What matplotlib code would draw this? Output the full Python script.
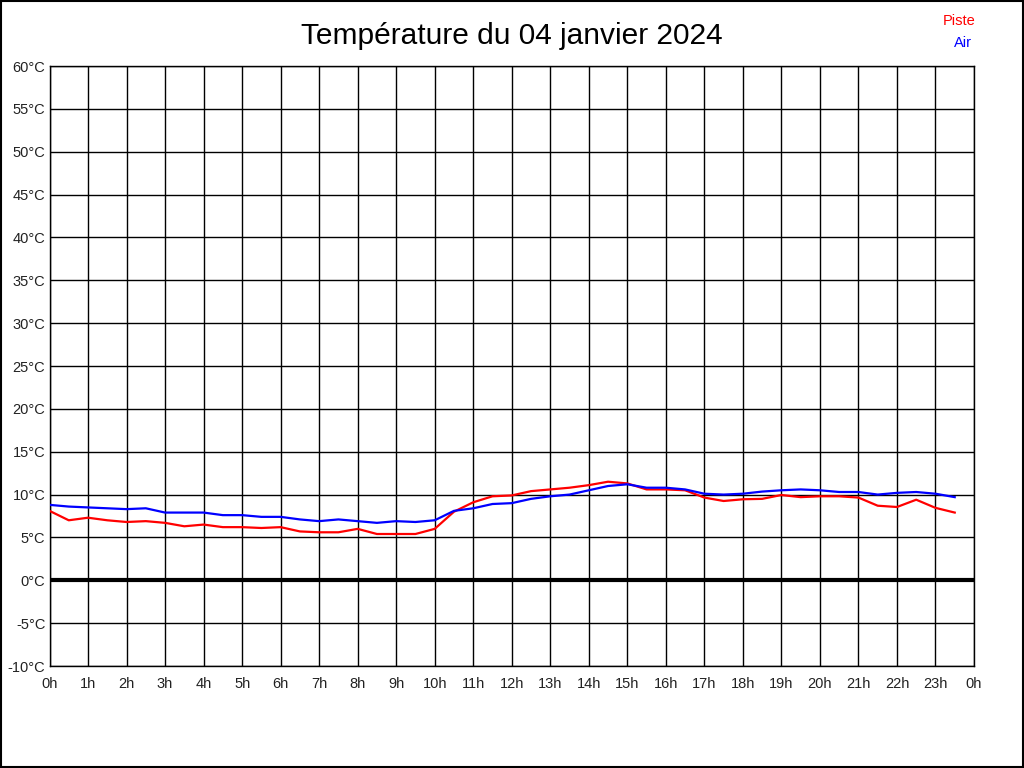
import numpy as np
import matplotlib.pyplot as plt
from matplotlib.patches import Rectangle

plt.rcParams['font.family'] = ['Liberation Sans', 'DejaVu Sans']

# half-hourly readings, 0h .. 23h30
heures = np.arange(0, 24, 0.5)

piste = [8.1, 7.0, 7.3, 7.0, 6.8, 6.9, 6.7, 6.3, 6.5, 6.2,
         6.2, 6.1, 6.2, 5.7, 5.6, 5.6, 6.0, 5.4, 5.4, 5.4,
         6.0, 8.0, 9.1, 9.8, 9.9, 10.4, 10.6, 10.8, 11.1, 11.5,
         11.3, 10.6, 10.6, 10.5, 9.65, 9.25, 9.45, 9.5, 9.95, 9.7,
         9.8, 9.8, 9.65, 8.7, 8.55, 9.4, 8.45, 7.9]

air = [8.8, 8.6, 8.5, 8.4, 8.3, 8.4, 7.9, 7.9, 7.9, 7.6,
       7.6, 7.4, 7.4, 7.1, 6.9, 7.1, 6.9, 6.7, 6.9, 6.8,
       7.0, 8.1, 8.4, 8.9, 9.0, 9.5, 9.8, 10.0, 10.5, 11.0,
       11.2, 10.8, 10.8, 10.6, 10.1, 10.0, 10.1, 10.35, 10.5, 10.6,
       10.5, 10.3, 10.3, 10.0, 10.2, 10.3, 10.1, 9.7]

y_ticks = np.arange(-10, 61, 5)
x_ticks = np.arange(0, 25, 1)
x_labels = [f"{h % 24}h" for h in x_ticks]

fig = plt.figure(figsize=(10.24, 7.68), dpi=100)
ax = fig.add_axes([49.5/1024, 1-666/768, (974-49.5)/1024, 600/768])

for v in x_ticks:
    ax.axvline(v, color='black', linewidth=1, zorder=1)
for v in y_ticks:
    ax.axhline(v, color='black', linewidth=1, zorder=1)
ax.axhline(0, color='black', linewidth=3, zorder=2)

ax.plot(heures, piste, color='red', linewidth=1.6, zorder=3)
ax.plot(heures, air, color='blue', linewidth=1.6, zorder=4)

ax.set_xlim(0, 24)
ax.set_ylim(-10, 60)
ax.set_xticks(x_ticks)
ax.set_xticklabels(x_labels)
ax.set_yticks(y_ticks)
ax.set_yticklabels([f"{v}°C" for v in y_ticks])
ax.tick_params(length=0, labelsize=10.5, colors='#222222', pad=3)
ax.tick_params(axis='x', pad=8)
for s in ax.spines.values():
    s.set_linewidth(1)

fig.text(0.5, 1-36/768, 'Température du 04 janvier 2024', ha='center', va='center',
         fontsize=21.5)
fig.text(976/1024, 1-21/768, 'Piste', color='red', ha='right', va='center', fontsize=10.5)
fig.text(972/1024, 1-43/768, 'Air', color='blue', ha='right', va='center', fontsize=10.5)

fig.patches.append(Rectangle((0.0005, 0.0007), 0.999, 0.9986, transform=fig.transFigure,
                             fill=False, edgecolor='black', linewidth=1.5))

fig.savefig('out.png', dpi=100)
